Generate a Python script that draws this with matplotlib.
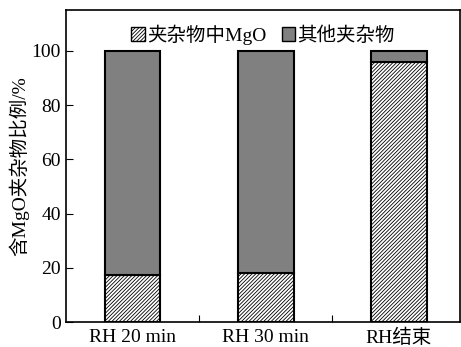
import matplotlib
matplotlib.use("Agg")
import matplotlib.pyplot as plt
from matplotlib.patches import Patch

plt.rcParams['font.family'] = ['Liberation Serif', 'Noto Sans CJK SC']
plt.rcParams['hatch.linewidth'] = 0.6
plt.rcParams['axes.linewidth'] = 1.2

categories = ['RH 20 min', 'RH 30 min', 'RH结束']
mgo = [17.5, 18.2, 96.0]
other = [82.5, 81.8, 4.0]
yticks = [0, 20, 40, 60, 80, 100]

fig = plt.figure(figsize=(4.61, 3.47), dpi=100)
ax = fig.add_axes([0.143, 0.072, 0.855, 0.899])

x = range(len(categories))
hatch = '/' * 9
ax.bar(x, mgo, width=0.42, color='white', edgecolor='black', hatch=hatch, linewidth=1.5)
ax.bar(x, other, bottom=mgo, width=0.42, color='#808080', edgecolor='black', linewidth=1.5)

ax.set_xlim(-0.5, 2.46)
ax.set_ylim(0, 115)
ax.set_yticks(yticks)
ax.set_xticks([0.5, 1.5])
ax.set_xticklabels([])
ax.set_xticks(list(x), minor=True)
ax.set_xticklabels(categories, minor=True)
ax.tick_params(axis='x', which='minor', length=0, labelsize=14, pad=5)
ax.tick_params(axis='x', which='major', direction='in', length=5)
ax.tick_params(axis='y', direction='in', length=5, labelsize=14)
ax.set_ylabel('含MgO夹杂物比例/%', fontsize=14, labelpad=2)

handles = [Patch(facecolor='white', edgecolor='black', hatch=hatch, label='夹杂物中MgO'),
           Patch(facecolor='#808080', edgecolor='black', label='其他夹杂物')]
ax.legend(handles=handles, loc='upper center', bbox_to_anchor=(0.5, 1.01), ncol=2, frameon=False,
          fontsize=14, handlelength=0.7, handleheight=0.7, handletextpad=0.1, columnspacing=0.8)

fig.savefig('out.png', dpi=100)
